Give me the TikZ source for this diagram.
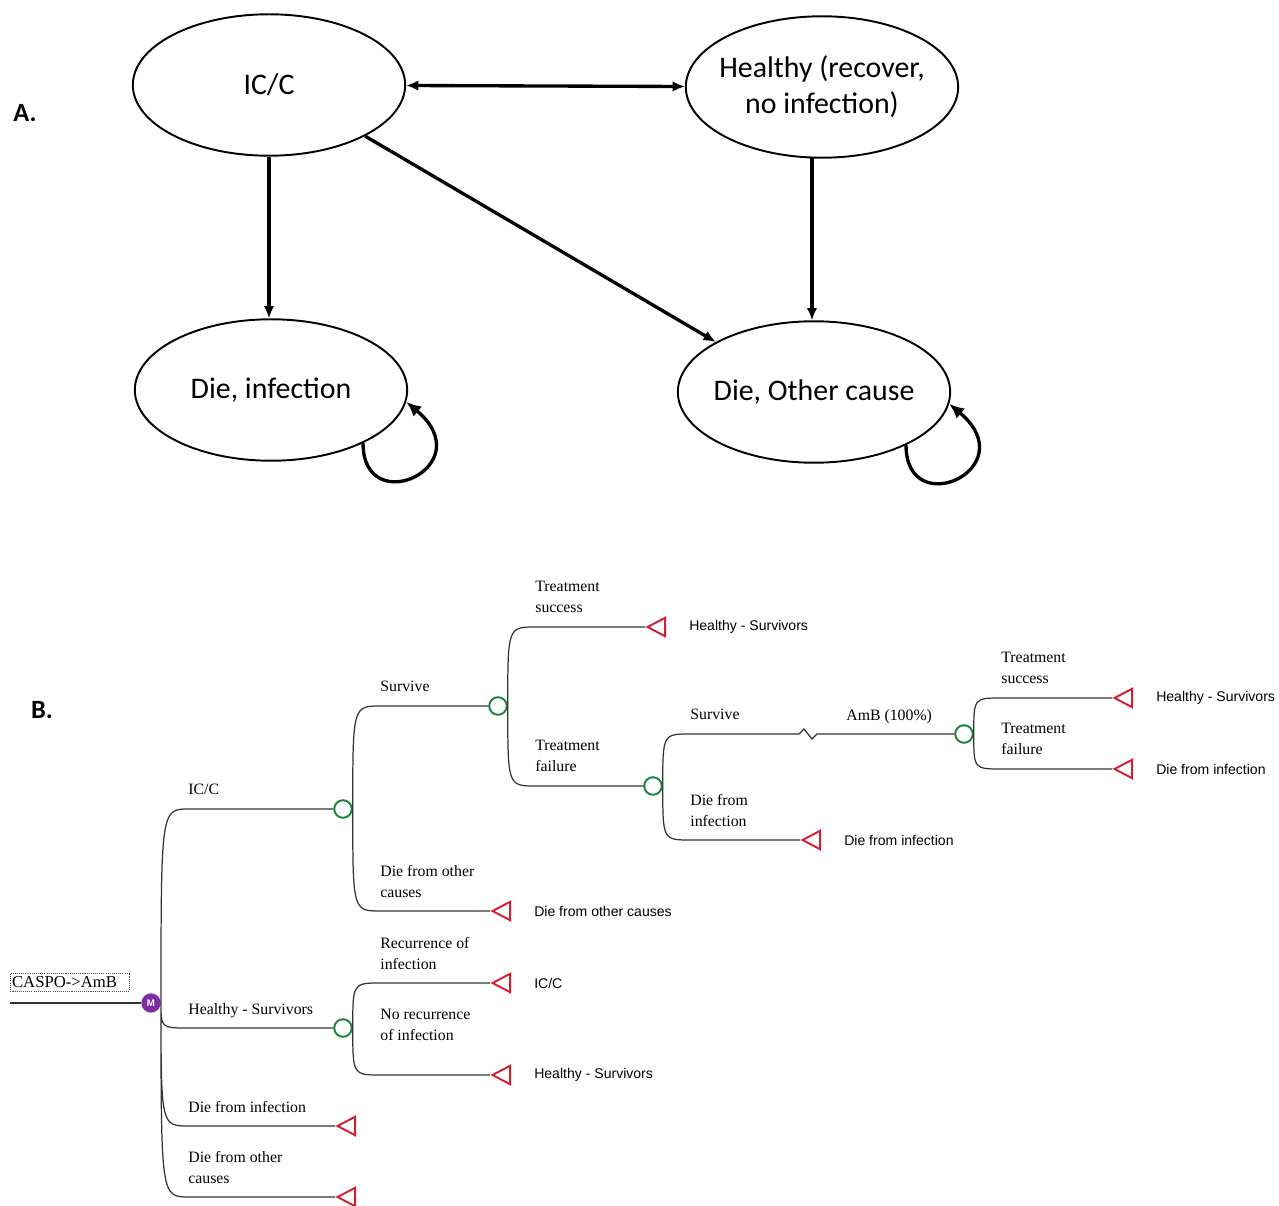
\documentclass[tikz,border=0pt]{standalone}
\usepackage{fontspec}
\setmainfont{Liberation Serif}
\newfontfamily\calibri{Carlito}
\newfontfamily\arialf{Liberation Sans}
\usepackage{xcolor}
\usepackage{tikz}
\usetikzlibrary{arrows.meta,calc,positioning,shapes.geometric}
\definecolor{chancegreen}{RGB}{30,130,66}
\definecolor{termred}{RGB}{210,30,50}
\definecolor{markovpurple}{RGB}{125,45,160}
\tikzset{
    >={Latex[length=7pt,width=6pt]},
    state/.style={
        ellipse,
        draw, line width=1.1pt,
        minimum width=155pt,
        minimum height=80.5pt
    },
    stxt/.style={font=\calibri\fontsize{17}{20.5}\selectfont, align=center},
    trans/.style={draw, line width=1.9pt, ->},
    tree/.style={draw=black!80, line width=0.7pt},
    branch/.style={to path={.. controls (\tikztostart |- \tikztotarget)
        .. ($(\tikztostart |- \tikztotarget)+(28,0)$) -- (\tikztotarget) \tikztonodes}},
    chance/.style={
        circle,
        draw=chancegreen, line width=1.1pt,
        minimum size=10pt, inner sep=0pt
    },
    terminal/.style={
        isosceles triangle,
        shape border rotate=180,
        isosceles triangle stretches,
        draw=termred, line width=1.1pt,
        minimum width=10.5pt, minimum height=10pt,
        inner sep=0pt
    },
    markov/.style={
        circle,
        fill=markovpurple,
        minimum size=11pt, inner sep=0pt,
        text=white,
        font=\arialf\bfseries\fontsize{5.5}{6}\selectfont
    },
    caspobox/.style={
        draw=black!70, dash pattern=on 0.6pt off 0.6pt, line width=0.4pt,
        text width=66pt, inner xsep=1pt, inner ysep=1.8pt,
        font=\fontsize{9.5}{11}\selectfont
    },
    brlabel/.style={anchor=north west, inner sep=0pt, align=left,
        font=\fontsize{9}{12}\selectfont},
    outcome/.style={inner sep=0pt, font=\arialf\fontsize{8}{9.6}\selectfont},
    panel/.style={font=\calibri\bfseries\fontsize{15}{18}\selectfont},
}

\begin{document}
\begin{tikzpicture}[x=0.02cm, y=0.02cm]
    \useasboundingbox (0,0) rectangle (1279,-1206);

    % A. state diagram
    \node[panel] (pa) at (25,-113) {A.};
    \node[state, label={[stxt]center:IC/C}] (icc) at (269,-85) {};
    \node[state, label={[stxt]center:{Healthy (recover,\\no infection)}}] (hlt) at (822,-87) {};
    \node[state, label={[stxt]center:{Die, infection}}] (din) at (271,-390) {};
    \node[state, label={[stxt]center:{Die, Other cause}}] (doc) at (814,-392) {};

    \draw[trans, <->] (icc) -- (hlt);
    \draw[trans] (icc.south) -- (icc.south |- din.north);
    \draw[trans] (hlt.262) -- (hlt.262 |- doc.north);
    \draw[trans] (icc.-28) -- (doc.153);
    % self loops
    \draw[trans, -{Latex[length=8.5pt,width=7.5pt]}] (din.-30) .. controls +(-90:78) and +(-40:100) .. (din.-5);
    \draw[trans, -{Latex[length=8.5pt,width=7.5pt]}] (doc.-30) .. controls +(-90:78) and +(-40:100) .. (doc.-5);

    % B. decision tree
    \node[panel] (pb) at (42,-710) {B.};
    \node[caspobox, anchor=north west] (caspo) at (10,-973) {CASPO->AmB};
    \coordinate (rootin) at (10,-1003);
    \node[markov] (m) at (151,-1003) {M};

    \node[chance] (c1) at (343,-809) {};
    \node[chance] (c2) at (343,-1028) {};
    \node[chance] (c3) at (498,-706) {};
    \node[chance] (c4) at (653,-786) {};
    \node[chance] (c5) at (964,-734) {};
    \coordinate (zz) at (799,-734);

    \node[terminal, anchor=apex] (t1) at (335,-1126) {};
    \node[terminal, anchor=apex] (t2) at (335,-1197) {};
    \node[terminal, anchor=apex] (t3) at (490,-911) {};
    \node[terminal, anchor=apex] (t4) at (645,-627) {};
    \node[terminal, anchor=apex] (t5) at (800,-840) {};
    \node[terminal, anchor=apex] (t6) at (1112,-698) {};
    \node[terminal, anchor=apex] (t7) at (1112,-769) {};
    \node[terminal, anchor=apex] (t8) at (490,-983) {};
    \node[terminal, anchor=apex] (t9) at (490,-1075) {};

    \draw[tree] (rootin) -- (m);
    \draw[tree] (m.east) to[branch] (c1)
                (m.east) to[branch] (c2)
                (m.east) to[branch] (t1)
                (m.east) to[branch] (t2);
    \draw[tree] (c1.east) to[branch] (c3)
                (c1.east) to[branch] (t3);
    \draw[tree] (c3.east) to[branch] (t4)
                (c3.east) to[branch] (c4);
    \draw[tree] (c4.east) to[branch] (zz)
                (c4.east) to[branch] (t5);
    \draw[tree] (zz) -- ++(5,5) -- ++(8,-10) -- ++(5,5) -- (c5);
    \draw[tree] (c5.east) to[branch] (t6)
                (c5.east) to[branch] (t7);
    \draw[tree] (c2.east) to[branch] (t8)
                (c2.east) to[branch] (t9);

    % branch labels
    \node[brlabel] (l1) at (188,-784) {IC/C};
    \node[brlabel] (l2) at (188,-1003) {Healthy - Survivors};
    \node[brlabel] (l3) at (188,-1101) {Die from infection};
    \node[brlabel] (l4) at (188,-1151) {Die from other\\causes};
    \node[brlabel] (l5) at (380,-681) {Survive};
    \node[brlabel] (l6) at (380,-865) {Die from other\\causes};
    \node[brlabel] (l7) at (535,-581) {Treatment\\success};
    \node[brlabel] (l8) at (535,-740) {Treatment\\failure};
    \node[brlabel] (l9) at (690,-709) {Survive};
    \node[brlabel] (l10) at (690,-794) {Die from\\infection};
    \node[brlabel] (l11) at (846,-709) {AmB (100\%)};
    \node[brlabel] (l12) at (1001,-652) {Treatment\\success};
    \node[brlabel] (l13) at (1001,-723) {Treatment\\failure};
    \node[brlabel] (l14) at (380,-937) {Recurrence of\\infection};
    \node[brlabel] (l15) at (380,-1009) {No recurrence\\of infection};

    % outcomes
    \node[outcome, right=13pt of t3] (o3) {Die from other causes};
    \node[outcome, right=13pt of t4] (o4) {Healthy - Survivors};
    \node[outcome, right=13pt of t5] (o5) {Die from infection};
    \node[outcome, right=13pt of t6] (o6) {Healthy - Survivors};
    \node[outcome, right=13pt of t7] (o7) {Die from infection};
    \node[outcome, right=13pt of t8] (o8) {IC/C};
    \node[outcome, right=13pt of t9] (o9) {Healthy - Survivors};
\end{tikzpicture}
\end{document}
